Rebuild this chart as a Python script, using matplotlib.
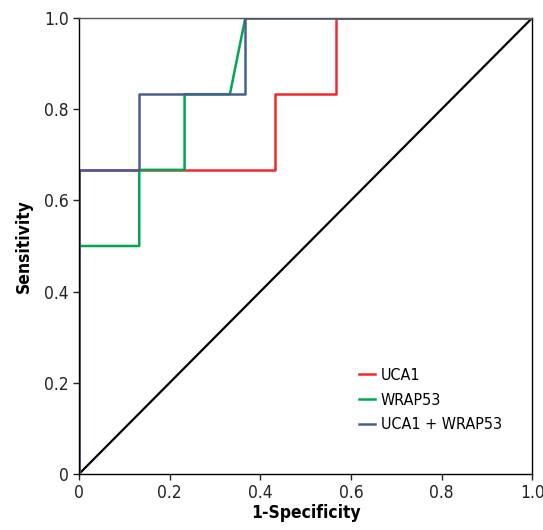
import matplotlib
matplotlib.use("Agg")
import matplotlib.pyplot as plt
from matplotlib.ticker import FixedLocator, FixedFormatter

plt.rcParams['font.family'] = ['DejaVu Sans']
plt.rcParams['font.stretch'] = 'condensed'

# ROC points
uca1_x = [0, 0, 0.433, 0.433, 0.567, 0.567, 1.0]
uca1_y = [0, 0.667, 0.667, 0.833, 0.833, 1.0, 1.0]

wrap53_x = [0, 0, 0.133, 0.133, 0.233, 0.233, 0.333, 0.367, 1.0]
wrap53_y = [0, 0.5, 0.5, 0.667, 0.667, 0.833, 0.833, 1.0, 1.0]

combo_x = [0, 0, 0.133, 0.133, 0.367, 0.367, 1.0]
combo_y = [0, 0.667, 0.667, 0.833, 0.833, 1.0, 1.0]

ticks = [0, 0.2, 0.4, 0.6, 0.8, 1.0]
tick_labels = ["0", "0.2", "0.4", "0.6", "0.8", "1.0"]

fig = plt.figure(figsize=(5.43, 5.30), dpi=100)
ax = fig.add_axes([0.1455, 0.1057, 0.8345, 0.8603])

# reference line
ax.plot([0, 1], [0, 1], color="black", lw=1.6)

ax.plot(uca1_x, uca1_y, color="#ee2a2f", lw=1.8, label="UCA1")
ax.plot(wrap53_x, wrap53_y, color="#00a651", lw=1.8, label="WRAP53")
ax.plot(combo_x, combo_y, color="#4a5e8e", lw=1.8, label="UCA1 + WRAP53")

ax.set_xlim(0, 1)
ax.set_ylim(0, 1)
ax.xaxis.set_major_locator(FixedLocator(ticks))
ax.xaxis.set_major_formatter(FixedFormatter(tick_labels))
ax.yaxis.set_major_locator(FixedLocator(ticks))
ax.yaxis.set_major_formatter(FixedFormatter(tick_labels))
ax.tick_params(direction="out", length=4, width=1, labelsize=12.5, colors="#222222")

for s in ax.spines.values():
    s.set_linewidth(1)
ax.spines["top"].set_color("#555555")

ax.set_xlabel("1-Specificity", fontsize=12.5, fontweight="bold", labelpad=1)
ax.set_ylabel("Sensitivity", fontsize=12.5, fontweight="bold", labelpad=8)

ax.legend(loc="lower right", frameon=False, fontsize=11.5, handlelength=1.0,
          handletextpad=0.35, labelspacing=0.6, bbox_to_anchor=(0.965, 0.06))

fig.savefig("out.png", dpi=100)
